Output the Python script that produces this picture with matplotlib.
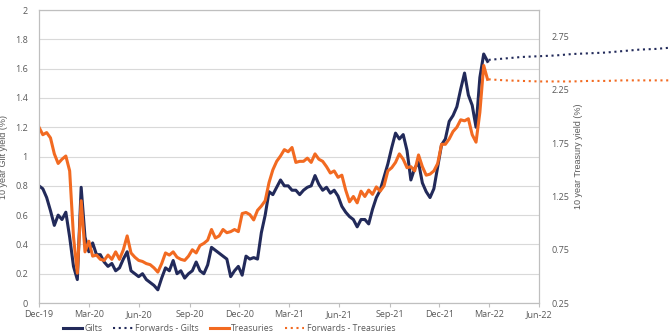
import matplotlib
matplotlib.use("Agg")
import matplotlib.pyplot as plt
import matplotlib.dates as mdates
import pandas as pd

plt.rcParams['font.family'] = ['Open Sans', 'DejaVu Sans']

# weekly observations starting 1 Dec 2019
start = "2019-12-01"

gilts = [
    0.80, 0.78, 0.72, 0.63, 0.53, 0.60, 0.57, 0.62, 0.45, 0.25,
    0.16, 0.79, 0.45, 0.35, 0.41, 0.33, 0.33, 0.28, 0.25, 0.27,
    0.22, 0.24, 0.30, 0.35, 0.22, 0.20, 0.18, 0.20, 0.16, 0.14,
    0.12, 0.09, 0.17, 0.24, 0.22, 0.29, 0.20, 0.22, 0.17, 0.20,
    0.22, 0.28, 0.22, 0.20, 0.26, 0.38, 0.36, 0.34, 0.32, 0.30,
    0.18, 0.22, 0.25, 0.19, 0.32, 0.30, 0.31, 0.30, 0.48, 0.60,
    0.76, 0.74, 0.79, 0.84, 0.80, 0.80, 0.77, 0.77, 0.74, 0.77,
    0.79, 0.80, 0.87, 0.81, 0.77, 0.79, 0.75, 0.77, 0.73, 0.66,
    0.62, 0.59, 0.57, 0.52, 0.57, 0.57, 0.54, 0.64, 0.72, 0.77,
    0.86, 0.95, 1.06, 1.16, 1.12, 1.15, 1.04, 0.84, 0.92, 0.96,
    0.82, 0.76, 0.72, 0.78, 0.93, 1.08, 1.12, 1.24, 1.28, 1.34,
    1.46, 1.57, 1.42, 1.35, 1.20, 1.54, 1.70, 1.65,
]

treasuries = [
    1.90, 1.83, 1.85, 1.80, 1.65, 1.56, 1.60, 1.63, 1.49, 0.87,
    0.53, 1.21, 0.73, 0.83, 0.69, 0.70, 0.66, 0.65, 0.70, 0.66,
    0.73, 0.66, 0.75, 0.88, 0.72, 0.68, 0.65, 0.64, 0.62, 0.61,
    0.58, 0.54, 0.62, 0.72, 0.70, 0.73, 0.68, 0.66, 0.65, 0.69,
    0.75, 0.72, 0.79, 0.81, 0.84, 0.94, 0.86, 0.88, 0.94, 0.91,
    0.92, 0.94, 0.92, 1.09, 1.10, 1.08, 1.03, 1.12, 1.16, 1.21,
    1.38, 1.50, 1.58, 1.63, 1.69, 1.67, 1.71, 1.57, 1.58, 1.58,
    1.61, 1.57, 1.65, 1.60, 1.58, 1.53, 1.47, 1.49, 1.43, 1.45,
    1.31, 1.20, 1.25, 1.19, 1.30, 1.25, 1.31, 1.27, 1.34, 1.30,
    1.35, 1.49, 1.52, 1.57, 1.65, 1.60, 1.52, 1.53, 1.49, 1.64,
    1.53, 1.45, 1.46, 1.49, 1.56, 1.74, 1.74, 1.79, 1.86, 1.90,
    1.97, 1.96, 1.98, 1.83, 1.76, 2.04, 2.48, 2.35,
]

# monthly forward curve from Mar-22
fwd_start = "2022-03-01"
fwd_gilts = [1.66, 1.67, 1.68, 1.685, 1.69, 1.70, 1.705, 1.71, 1.72, 1.73, 1.735, 1.745]
fwd_treasuries = [2.35, 2.34, 2.335, 2.33, 2.33, 2.33, 2.335, 2.335, 2.34, 2.34, 2.34, 2.34]

navy = "#222a5a"
orange = "#f26a21"
grey_txt = "#595959"

dates = pd.date_range(start, periods=len(gilts), freq="7D")
fwd_dates = pd.date_range(fwd_start, periods=len(fwd_gilts), freq="MS")

fig = plt.figure(figsize=(6.7, 3.36), dpi=100)
ax = fig.add_axes([0.0582, 0.0982, 0.7463, 0.8718])
ax2 = ax.twinx()

l1, = ax.plot(dates, gilts, color=navy, lw=2.2, label="Gilts")
l2, = ax.plot(fwd_dates, fwd_gilts, color=navy, lw=1.5, ls=(0, (1, 1.75)),
              clip_on=False, label="Forwards - Gilts")
l3, = ax2.plot(dates, treasuries, color=orange, lw=2.2, label="Treasuries")
l4, = ax2.plot(fwd_dates, fwd_treasuries, color=orange, lw=1.5, ls=(0, (1, 1.75)),
               clip_on=False, label="Forwards - Treasuries")

ax.set_xlim(pd.Timestamp("2019-12-01"), pd.Timestamp("2022-06-01"))
ax.set_ylim(0, 2)
ax2.set_ylim(0.25, 3.0)
ax.set_yticks([0, 0.2, 0.4, 0.6, 0.8, 1, 1.2, 1.4, 1.6, 1.8, 2])
ax.set_yticklabels(["0", "0.2", "0.4", "0.6", "0.8", "1", "1.2", "1.4", "1.6", "1.8", "2"])
ax2.set_yticks([0.25, 0.75, 1.25, 1.75, 2.25, 2.75])
ax2.set_yticklabels(["0.25", "0.75", "1.25", "1.75", "2.25", "2.75"])

ax.xaxis.set_major_locator(mdates.MonthLocator(bymonth=[3, 6, 9, 12]))
ax.xaxis.set_major_formatter(mdates.DateFormatter("%b-%y"))

ax.grid(axis="y", color="#d9d9d9", lw=0.8)
ax.set_axisbelow(True)
for a in (ax, ax2):
    for s in a.spines.values():
        s.set_color("#bfbfbf")
        s.set_linewidth(0.8)
ax.tick_params(axis="x", length=3, color="#bfbfbf", labelsize=6.5, labelcolor=grey_txt, pad=2)
ax.tick_params(axis="y", length=0, labelsize=6.5, labelcolor=grey_txt, pad=8)
ax2.tick_params(axis="y", length=0, labelsize=6.5, labelcolor=grey_txt, pad=9)

ax.set_ylabel("10 year Gilt yield (%)", fontsize=6.5, color=grey_txt,
              family=["Liberation Sans Narrow", "Liberation Sans", "DejaVu Sans"], labelpad=5)
ax2.set_ylabel("10 year Treasury yield (%)", fontsize=6.5, color=grey_txt,
               family=["Liberation Sans Narrow", "Liberation Sans", "DejaVu Sans"], labelpad=3)

fig.legend(handles=[l1, l2, l3, l4], loc="center", bbox_to_anchor=(0.342, 0.022),
           ncol=4, frameon=False, fontsize=6.3, handlelength=2.2, handletextpad=0.3,
           columnspacing=1.2, labelcolor=grey_txt)

fig.savefig("out.png", dpi=100)
